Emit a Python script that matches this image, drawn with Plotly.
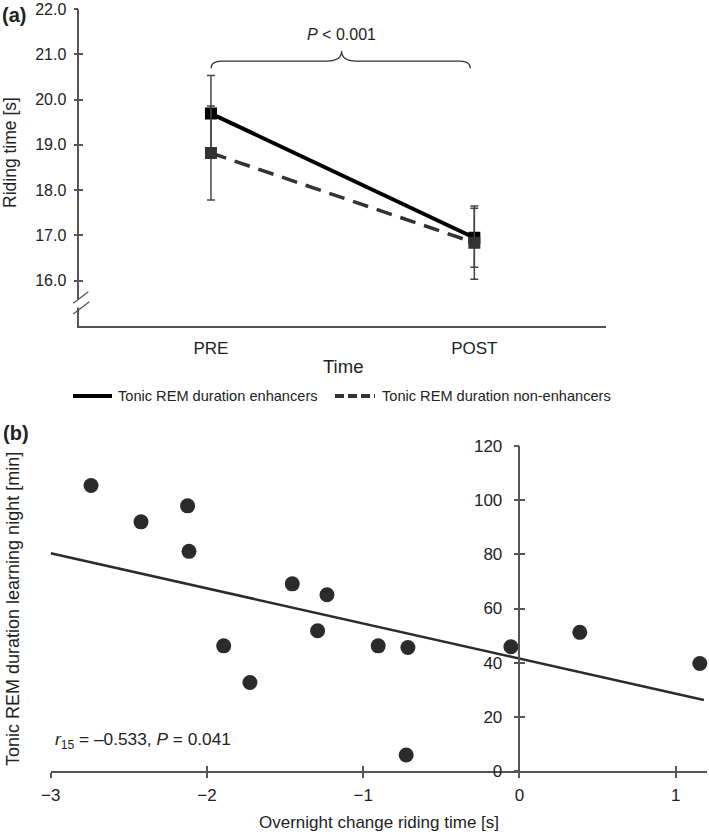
import plotly.graph_objects as go

W, H = 709, 835
FONT = "Liberation Sans, Arial, sans-serif"

# ---------------- data ----------------
times = ["PRE", "POST"]
time_pos = [0, 1]
enh_mean = [19.69, 16.95]
enh_sd = [0.84, 0.65]
non_mean = [18.82, 16.84]
non_sd = [1.04, 0.81]
ya_ticks = [16, 17, 18, 19, 20, 21, 22]

change_rt = [-2.742, -2.422, -2.124, -2.115, -1.454, -1.232, -1.292, -1.893,
             -1.725, -0.904, -0.714, -0.725, -0.055, 0.386, 1.154]
tonic_rem = [105.4, 92.0, 97.9, 81.1, 69.1, 65.1, 51.8, 46.2,
             32.7, 46.2, 45.6, 5.9, 45.9, 51.2, 39.7]
fit_x = [-3.0, 1.18]
fit_y = [80.4, 26.2]
xb_ticks = [-3, -2, -1, 0, 1]
yb_ticks = [0, 20, 40, 60, 80, 100, 120]


def px(x):
    return x / W


def py(y):
    return 1 - y / H


AX = "#555555"
TXT = "#222222"

fig = go.Figure()

# ---------------- panel (a) ----------------
fig.add_trace(go.Scatter(
    x=time_pos, y=enh_mean, mode="lines+markers", xaxis="x", yaxis="y",
    line=dict(color="#000000", width=4),
    marker=dict(symbol="square", size=12, color="#000000"),
    error_y=dict(type="data", array=enh_sd, color="#444444", thickness=1.5, width=4),
    showlegend=False, hoverinfo="skip"))
fig.add_trace(go.Scatter(
    x=time_pos, y=non_mean, mode="lines+markers", xaxis="x", yaxis="y",
    line=dict(color="#333333", width=3.5, dash="16px,9px"),
    marker=dict(symbol="square", size=12, color="#333333"),
    error_y=dict(type="data", array=non_sd, color="#444444", thickness=1.5, width=4),
    showlegend=False, hoverinfo="skip"))
# dummy for overlay tick axis
fig.add_trace(go.Scatter(x=[None], y=[None], xaxis="x", yaxis="y3",
                         showlegend=False, hoverinfo="skip"))

# ---------------- panel (b) ----------------
fig.add_trace(go.Scatter(
    x=fit_x, y=fit_y, mode="lines", xaxis="x2", yaxis="y2",
    line=dict(color="#2b2b2b", width=2.5), showlegend=False, hoverinfo="skip"))
fig.add_trace(go.Scatter(
    x=change_rt, y=tonic_rem, mode="markers", xaxis="x2", yaxis="y2",
    marker=dict(size=15, color="#2b2b2b"), showlegend=False, hoverinfo="skip",
    cliponaxis=False))
fig.add_trace(go.Scatter(x=[None], y=[None], xaxis="x3", yaxis="y2",
                         showlegend=False, hoverinfo="skip"))
fig.add_trace(go.Scatter(x=[None], y=[None], xaxis="x2", yaxis="y4",
                         showlegend=False, hoverinfo="skip"))

xa_dom = [px(79.3), px(606)]
ya_dom = [py(326), py(9)]
xb_dom = [px(50.7), px(707)]
yb_dom = [py(771), py(446)]
xb_range = [-3.0, 1.2]
yb_pos = xb_dom[0] + (0 - xb_range[0]) / (xb_range[1] - xb_range[0]) * (xb_dom[1] - xb_dom[0])

tickfont = dict(family=FONT, size=16, color=TXT)
common = dict(showgrid=False, zeroline=False, automargin=False)

fig.update_layout(
    width=W, height=H, margin=dict(l=0, r=0, t=0, b=0, pad=0), autosize=False,
    paper_bgcolor="white", plot_bgcolor="rgba(0,0,0,0)",
    font=dict(family=FONT, color=TXT),
    xaxis=dict(domain=xa_dom, range=[-0.5, 1.5], tickvals=time_pos, ticktext=times,
               ticks="", showline=True, linecolor=AX, linewidth=1.5,
               anchor="y", tickfont=dict(family=FONT, size=17, color=TXT),
               ticklabelstandoff=6, **common),
    yaxis=dict(domain=ya_dom, range=[15, 22], tickvals=ya_ticks, tickformat=".1f",
               ticks="outside", ticklen=4, tickcolor=AX, tickwidth=1.5,
               showline=True, linecolor=AX, linewidth=1.5,
               anchor="x", tickfont=tickfont, ticklabelstandoff=4, **common),
    yaxis3=dict(overlaying="y", range=[15, 22], tickvals=ya_ticks, ticks="inside",
                ticklen=4, tickcolor=AX, tickwidth=1.5, showticklabels=False,
                showline=False, anchor="x", **common),
    xaxis2=dict(domain=xb_dom, range=xb_range, tickvals=xb_ticks,
                ticks="outside", ticklen=5, tickcolor=AX, tickwidth=1.5,
                showline=True, linecolor=AX, linewidth=1.5, anchor="y2",
                tickfont=dict(family=FONT, size=17, color=TXT), ticklabelstandoff=3,
                **common),
    xaxis3=dict(overlaying="x2", range=xb_range, tickvals=xb_ticks, ticks="inside",
                ticklen=5, tickcolor=AX, tickwidth=1.5, showticklabels=False,
                showline=False, anchor="y2", **common),
    yaxis2=dict(domain=yb_dom, range=[0, 120], tickvals=yb_ticks, anchor="free",
                position=yb_pos, side="left", ticks="outside", ticklen=5,
                tickcolor=AX, tickwidth=1.5, showline=True, linecolor=AX,
                linewidth=1.5,
                tickfont=dict(family=FONT, size=17, color=TXT), ticklabelstandoff=8,
                **common),
    yaxis4=dict(overlaying="y2", range=[0, 120], tickvals=yb_ticks, anchor="free",
                position=yb_pos, side="left", ticks="inside", ticklen=5,
                tickcolor=AX, tickwidth=1.5, showticklabels=False, showline=False,
                **common),
)

shapes = []
# curly brace between PRE and POST
brace = ("M 0,20.69 Q 0,20.85 0.04,20.85 L 0.44,20.85 "
         "Q 0.496,20.85 0.496,21.07 Q 0.496,20.85 0.55,20.85 "
         "L 0.945,20.85 Q 0.985,20.85 0.985,20.69")
shapes.append(dict(type="path", path=brace, xref="x", yref="y",
                   line=dict(color="#333333", width=1.2)))
# axis break on panel (a) y axis
shapes.append(dict(type="rect", xref="paper", yref="paper",
                   x0=px(77), x1=px(83), y0=py(307.5), y1=py(299.5),
                   fillcolor="white", line=dict(width=0)))
shapes.append(dict(type="line", xref="paper", yref="paper",
                   x0=px(73.3), y0=py(303.3), x1=px(88.3), y1=py(291.7),
                   line=dict(color=AX, width=1.3)))
shapes.append(dict(type="line", xref="paper", yref="paper",
                   x0=px(73.3), y0=py(314), x1=px(89.3), y1=py(301.7),
                   line=dict(color=AX, width=1.3)))
# legend lines
shapes.append(dict(type="line", xref="paper", yref="paper",
                   x0=px(73), y0=py(396), x1=px(112), y1=py(396),
                   line=dict(color="#000000", width=4)))
shapes.append(dict(type="line", xref="paper", yref="paper",
                   x0=px(335), y0=py(396), x1=px(375), y1=py(396),
                   line=dict(color="#333333", width=4, dash="9px,4px")))
fig.update_layout(shapes=shapes)

ann = []


def text(s, x, y, size, xanchor="center", angle=0, **kw):
    ann.append(dict(text=s, x=px(x), y=py(y), xref="paper", yref="paper",
                    xanchor=xanchor, yanchor="middle", showarrow=False,
                    textangle=angle, font=dict(family=FONT, size=size, color=TXT), **kw))


text("<b>(a)</b>", 0, 15, 20, xanchor="left")
text("<b>(b)</b>", 1, 433, 20, xanchor="left")
text("Riding time [s]", 10, 153, 17.5, angle=-90)
text("Time", 342.6, 366, 18.5)
text("Tonic REM duration enhancers", 116, 396, 14.6, xanchor="left")
text("Tonic REM duration non-enhancers", 380, 396, 14.6, xanchor="left")
text("Tonic REM duration learning night [min]", 13, 609, 18, angle=-90)
text("Overnight change riding time [s]", 379, 822, 17)
text("<i>r</i><sub>15</sub> = –0.533, <i>P</i> = 0.041", 53, 740, 17.3, xanchor="left")
ann.append(dict(text="<i>P</i> &lt; 0.001", x=0.496, y=21.43, xref="x", yref="y",
                showarrow=False, xanchor="center", yanchor="middle",
                font=dict(family=FONT, size=16, color=TXT)))
fig.update_layout(annotations=ann)

fig.write_html("out.html", config={"displayModeBar": False},
               post_script="document.body.style.margin='0px';")
